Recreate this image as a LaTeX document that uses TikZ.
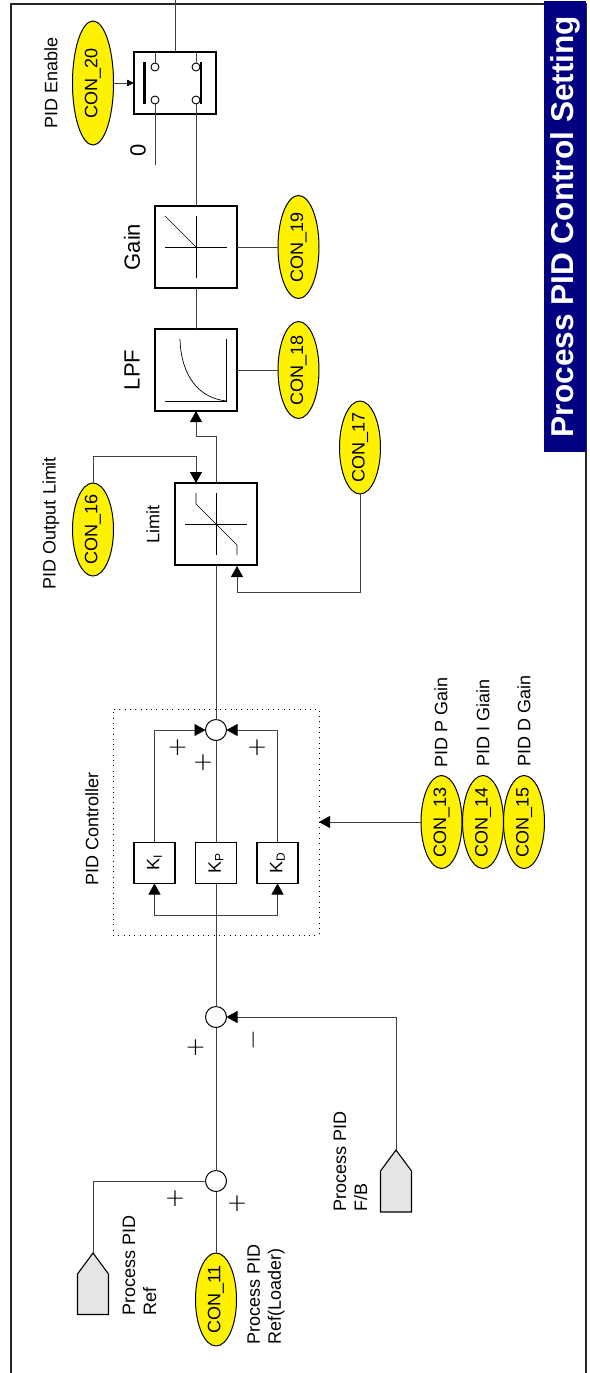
\documentclass[tikz,border=0pt]{standalone}
\usepackage{fontspec}
\setmainfont{Liberation Sans}
\newfontfamily\signfont{DejaVu Sans ExtraLight}
\usetikzlibrary{arrows.meta,shapes.geometric}
\definecolor{titlenavy}{RGB}{0,0,128}
\newcommand{\fsz}[1]{\fontsize{#1}{21}\selectfont}
\newcommand{\rtxt}[1]{\makebox[0pt]{\raisebox{0pt}[0pt][0pt]{\raisebox{-.5\height}{\rotatebox{90}{#1}}}}}
\newcommand{\ksub}[1]{K\raisebox{-2.5pt}{\fontsize{12}{14}\selectfont #1}}
\tikzset{
  wire/.style={draw=black!75,line width=0.8pt},
  awire/.style={wire,-{Triangle[length=11pt,width=12pt,color=black]}},
  sawire/.style={wire,-{Triangle[length=7pt,width=6.5pt,color=black]}},
  conell/.style={ellipse,draw=black,line width=1pt,fill=yellow,inner sep=0pt,outer sep=0pt,minimum width=41pt,minimum height=93pt,font=\fsz{18}},
  fbox/.style={rectangle,draw=black,line width=1.1pt,fill=white,inner sep=0pt,outer sep=0pt,minimum size=82pt},
  kbox/.style={rectangle,draw=black,line width=1.1pt,fill=white,inner sep=0pt,outer sep=0pt,minimum size=41pt,font=\fsz{18}},
  sumc/.style={circle,draw=black,line width=1pt,fill=white,inner sep=0pt,outer sep=0pt,minimum size=21pt},
  lab/.style={rotate=90,align=center,inner sep=0pt,font=\fsz{18}},
  blab/.style={rotate=90,anchor=west,align=left,inner sep=0pt,font=\fsz{18}},
  sign/.style={inner sep=0pt,font=\signfont\fsz{25}},
  contact/.style={circle,draw=black,line width=0.9pt,fill=white,inner sep=0pt,outer sep=0pt,minimum size=8pt},
  plot/.style={draw=black,line width=0.7pt},
  pent/.style={draw=black,line width=1.1pt,fill=black!10},
}
\begin{document}
\begin{tikzpicture}[x=1pt,y=-1pt]
\useasboundingbox (0,0) rectangle (589,1373);
\fill[white] (0,0) rectangle (589,1373);
% frame
\draw[black!85,line width=1.3pt] (11,1373) -- (11,4) -- (586,4) -- (586,1373);
\node[rectangle,fill=titlenavy,inner sep=0pt,outer sep=0pt,minimum width=42pt,minimum height=451pt] (title) at (565,226.5) {\rtxt{\textcolor{white}{\fsz{31.6}\bfseries Process PID Control Setting}}};
% nodes
\node[fbox,minimum width=82pt,minimum height=62pt] (sw) at (175,83) {};
\node[fbox] (gain) at (196,247) {};
\node[fbox] (lpf) at (196,370) {};
\node[fbox] (lim) at (216,524) {};
\node[sumc] (s1) at (216,730) {};
\node[sumc] (s2) at (216,1017) {};
\node[sumc] (s3) at (216,1181) {};
\node[kbox] (ki) at (154.5,863) {\rtxt{\ksub{I}}};
\node[kbox] (kp) at (216,863) {\rtxt{\ksub{P}}};
\node[kbox] (kd) at (277.5,863) {\rtxt{\ksub{D}}};
\node[conell,minimum height=124pt] (c20) at (93,83) {\rtxt{CON\_20}};
\node[conell,minimum height=103pt] (c19) at (298.5,247) {\rtxt{CON\_19}};
\node[conell,minimum height=97pt] (c18) at (298.5,370) {\rtxt{CON\_18}};
\node[conell] (c17) at (360,447.5) {\rtxt{CON\_17}};
\node[conell] (c16) at (93,529.5) {\rtxt{CON\_16}};
\node[conell] (c13) at (441.5,822) {\rtxt{CON\_13}};
\node[conell] (c14) at (483,822) {\rtxt{CON\_14}};
\node[conell] (c15) at (524,822) {\rtxt{CON\_15}};
\node[conell] (c11) at (216,1299.5) {\rtxt{CON\_11}};
\node[draw=black,line width=1pt,dash pattern=on 1pt off 4.3pt,inner sep=0pt,outer sep=0pt,minimum width=206pt,minimum height=226pt] (pid) at (216,822) {};
% switch
\coordinate (top) at (175,0);
\coordinate (zero) at (155,165);
\node[contact] (ca) at (155,67) {};
\node[contact] (cb) at (155,100) {};
\node[contact] (cc) at (196,67) {};
\node[contact] (cd) at (196,100) {};
\coordinate (b1a) at (144.5,62);
\coordinate (b1b) at (144.5,104);
\coordinate (b2a) at (201,62);
\coordinate (b2b) at (201,104);
\draw[wire] (sw.north) -- (top);
\draw[wire] (ca) -- (ca |- sw.north);
\draw[wire] (cc) -- (cc |- sw.north);
\draw[wire] (cb) -- (zero);
\draw[wire] (cd) -- (gain.north);
\draw[black,line width=2.2pt] (b1a) -- (b1b);
\draw[black,line width=2.2pt] (b2a) -- (b2b);
\draw[sawire] (c20) -- (sw);
% main chain
\draw[wire] (gain.south) -- (lpf.north);
\draw[wire] (gain.east) -- (c19);
\draw[wire] (lpf.east) -- (c18);
\coordinate (e1) at (216,436);
\coordinate (e2) at (196,436);
\draw[awire] (lim.north) -- (e1) -- (e2) -- (lpf.south);
\coordinate (e3) at (93,456);
\coordinate (e4) at (196,456);
\coordinate (e5) at (196,483);
\draw[awire] (c16.north) -- (e3) -- (e4) -- (e5);
\coordinate (e6) at (360,592);
\coordinate (e7) at (237,592);
\coordinate (e8) at (237,566);
\draw[awire] (c17.south) -- (e6) -- (e7) -- (e8);
\draw[wire] (lim.south) -- (s1.north);
% PID
\draw[wire] (kp.north) -- (s1.south);
\coordinate (e9) at (ki.north |- s1);
\coordinate (e10) at (kd.north |- s1);
\draw[awire] (ki.north) -- (e9) -- (s1.west);
\draw[awire] (kd.north) -- (e10) -- (s1.east);
\coordinate (br) at (216,915);
\coordinate (e11) at (ki.south |- br);
\coordinate (e12) at (kd.south |- br);
\draw[wire] (kp.south) -- (s2.north);
\draw[awire] (br) -- (e11) -- (ki.south);
\draw[awire] (br) -- (e12) -- (kd.south);
\coordinate (tp) at (319,822);
\draw[awire] (c13.west) -- (tp);
% inputs
\draw[wire] (s2.south) -- (s3.north);
\draw[wire] (s3.south) -- (c11.north);
\coordinate (fbt) at (396,1150);
\coordinate (reft) at (93,1253);
\coordinate (e13) at (396,1017);
\coordinate (e14) at (93,1181);
\draw[awire] (fbt) -- (e13) -- (s2.east);
\draw[wire] (s3.west) -- (e14) -- (reft);
\draw[pent] (fbt) -- (411.5,1171) -- (411.5,1212) -- (380.5,1212) -- (380.5,1171) -- cycle;
\draw[pent] (reft) -- (108.5,1274) -- (108.5,1314.5) -- (77.5,1314.5) -- (77.5,1274) -- cycle;
% plots
\draw[plot] (gain.center) ++(-31,0) coordinate (g1) -- ++(62,0);
\draw[plot] (gain.center) ++(0,-31) -- ++(0,62);
\draw[plot] (gain.center) ++(-31,-31) -- (gain.center);
\draw[plot] (165,401) -- (226.5,401) -- (226.5,339);
\draw[plot] (180,339) .. controls (181,375) and (198,398) .. (226.5,401);
\draw[plot] (lim.center) ++(-31,0) -- ++(62,0);
\draw[plot] (lim.center) ++(0,-31) -- ++(0,62);
\draw[plot] (196,493) -- (196,504) -- (237,545) -- (237,555);
% labels
\node[lab] (lenable) at (51,83) {PID Enable};
\node[lab,font=\fsz{22}] (lzero) at (138,150) {0};
\node[lab,font=\fsz{22}] (lgain) at (132,247) {Gain};
\node[lab,font=\fsz{22}] (llpf) at (132,370) {LPF};
\node[lab] (llimit) at (153,524) {Limit};
\node[lab] (lout) at (51,523) {PID Output Limit};
\node[lab] (lpidc) at (92,829) {PID Controller};
\node[blab] (lp) at (441,768) {PID P Gain};
\node[blab] (li) at (483,767) {PID I Giain};
\node[blab] (ld) at (524,767) {PID D Gain};
\node[blab] (lref) at (139.5,1316) {Process PID\\Ref};
\node[blab] (lfb) at (350.5,1212) {Process PID\\F/B};
\node[blab] (lload) at (266,1345) {Process PID\\Ref(Loader)};
% signs
\node[sign] (p1) at (177.5,748) {+};
\node[sign] (p2) at (203,763) {+};
\node[sign] (p3) at (257,748) {+};
\node[sign] (p4) at (195.5,1048) {+};
\node[sign] (p5) at (175,1199) {+};
\node[sign] (p6) at (237,1204) {+};
\node[sign,rotate=90] (m1) at (257,1040) {−};
\end{tikzpicture}
\end{document}
